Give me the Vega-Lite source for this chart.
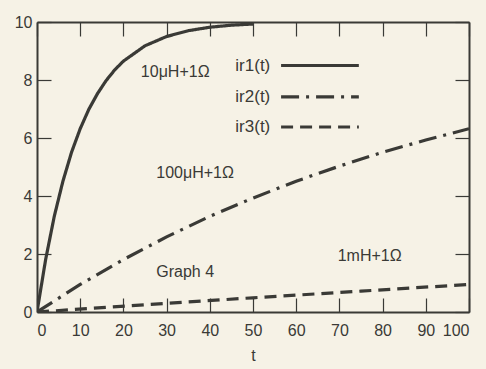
{
  "$schema": "https://vega.github.io/schema/vega-lite/v6.json",
  "width": 432,
  "height": 290,
  "autosize": "none",
  "padding": {"left": 37, "top": 22, "right": 17, "bottom": 57},
  "background": "#f6f2e6",
  "config": {
    "view": {"stroke": null},
    "font": "Liberation Sans",
    "axis": {
      "grid": false,
      "domainColor": "#3a3a36",
      "domainWidth": 2,
      "tickColor": "#3a3a36",
      "tickWidth": 1.2,
      "tickSize": -14,
      "labelFont": "Liberation Sans",
      "labelFontSize": 16,
      "labelColor": "#3a3a36",
      "titleFont": "Liberation Sans",
      "titleFontSize": 16,
      "titleFontWeight": "normal",
      "titleColor": "#3a3a36"
    }
  },
  "datasets": {
    "curves": [
      {"series": "ir1", "t": 0, "v": 0},
      {"series": "ir1", "t": 2, "v": 1.81},
      {"series": "ir1", "t": 4, "v": 3.3},
      {"series": "ir1", "t": 6, "v": 4.51},
      {"series": "ir1", "t": 8, "v": 5.51},
      {"series": "ir1", "t": 10, "v": 6.32},
      {"series": "ir1", "t": 12, "v": 6.99},
      {"series": "ir1", "t": 14, "v": 7.53},
      {"series": "ir1", "t": 16, "v": 7.98},
      {"series": "ir1", "t": 18, "v": 8.35},
      {"series": "ir1", "t": 20, "v": 8.65},
      {"series": "ir1", "t": 25, "v": 9.18},
      {"series": "ir1", "t": 30, "v": 9.5},
      {"series": "ir1", "t": 35, "v": 9.7},
      {"series": "ir1", "t": 40, "v": 9.82},
      {"series": "ir1", "t": 45, "v": 9.89},
      {"series": "ir1", "t": 50, "v": 9.93},
      {"series": "ir2", "t": 0, "v": 0},
      {"series": "ir2", "t": 10, "v": 0.95},
      {"series": "ir2", "t": 20, "v": 1.81},
      {"series": "ir2", "t": 30, "v": 2.59},
      {"series": "ir2", "t": 40, "v": 3.3},
      {"series": "ir2", "t": 50, "v": 3.93},
      {"series": "ir2", "t": 60, "v": 4.51},
      {"series": "ir2", "t": 70, "v": 5.03},
      {"series": "ir2", "t": 80, "v": 5.51},
      {"series": "ir2", "t": 90, "v": 5.93},
      {"series": "ir2", "t": 100, "v": 6.32},
      {"series": "ir3", "t": 0, "v": 0},
      {"series": "ir3", "t": 25, "v": 0.25},
      {"series": "ir3", "t": 50, "v": 0.49},
      {"series": "ir3", "t": 75, "v": 0.72},
      {"series": "ir3", "t": 100, "v": 0.95}
    ],
    "legend": [
      {"series": "ir1", "label": "ir1(t)", "lx": 54, "x1": 56.5, "x2": 74.5, "y": 8.5},
      {"series": "ir2", "label": "ir2(t)", "lx": 54, "x1": 56.5, "x2": 74.5, "y": 7.42},
      {"series": "ir3", "label": "ir3(t)", "lx": 54, "x1": 56.5, "x2": 74.5, "y": 6.38}
    ],
    "notes": [
      {"label": "10μH+1Ω", "x": 32, "y": 8.28},
      {"label": "100μH+1Ω", "x": 36.6, "y": 4.79},
      {"label": "Graph 4", "x": 34.3, "y": 1.38},
      {"label": "1mH+1Ω", "x": 77, "y": 1.93}
    ]
  },
  "resolve": {"axis": {"x": "independent", "y": "independent"}},
  "layer": [
    {
      "data": {"name": "curves"},
      "mark": {"type": "line", "strokeWidth": 3.2, "color": "#3a3a36", "clip": true},
      "encoding": {
        "x": {"field": "t", "type": "quantitative", "scale": {"domain": [0, 100], "nice": false},
              "axis": {"orient": "bottom", "values": [0,10,20,30,40,50,60,70,80,90,100], "title": "t", "labelPadding": 24, "titlePadding": 9}},
        "y": {"field": "v", "type": "quantitative", "scale": {"domain": [0, 10], "nice": false},
              "axis": {"orient": "left", "values": [0,2,4,6,8,10], "title": null, "labelPadding": 19}},
        "detail": {"field": "series"},
        "strokeDash": {"field": "series", "type": "nominal", "legend": null,
                       "scale": {"domain": ["ir1","ir2","ir3"], "range": [[1,0],[18,7,3,7],[12,7]]}}
      }
    },
    {
      "data": {"name": "legend"},
      "mark": {"type": "rule", "strokeWidth": 3.2, "color": "#3a3a36"},
      "encoding": {
        "x": {"field": "x1", "type": "quantitative", "axis": {"orient": "top", "values": [0,10,20,30,40,50,60,70,80,90,100], "labels": false, "title": null}},
        "x2": {"field": "x2"},
        "y": {"field": "y", "type": "quantitative", "axis": {"orient": "right", "values": [0,2,4,6,8,10], "labels": false, "title": null}},
        "strokeDash": {"field": "series", "type": "nominal", "legend": null,
                       "scale": {"domain": ["ir1","ir2","ir3"], "range": [[1,0],[18,7,3,7],[12,7]]}}
      }
    },
    {
      "data": {"name": "legend"},
      "mark": {"type": "text", "align": "right", "baseline": "middle", "fontSize": 17, "color": "#3a3a36", "font": "Liberation Sans"},
      "encoding": {
        "x": {"field": "lx", "type": "quantitative", "axis": null},
        "y": {"field": "y", "type": "quantitative", "axis": null},
        "text": {"field": "label"}
      }
    },
    {
      "data": {"name": "notes"},
      "mark": {"type": "text", "align": "center", "baseline": "middle", "fontSize": 16, "color": "#3a3a36", "font": "Liberation Sans"},
      "encoding": {
        "x": {"field": "x", "type": "quantitative", "axis": null},
        "y": {"field": "y", "type": "quantitative", "axis": null},
        "text": {"field": "label"}
      }
    }
  ]
}
